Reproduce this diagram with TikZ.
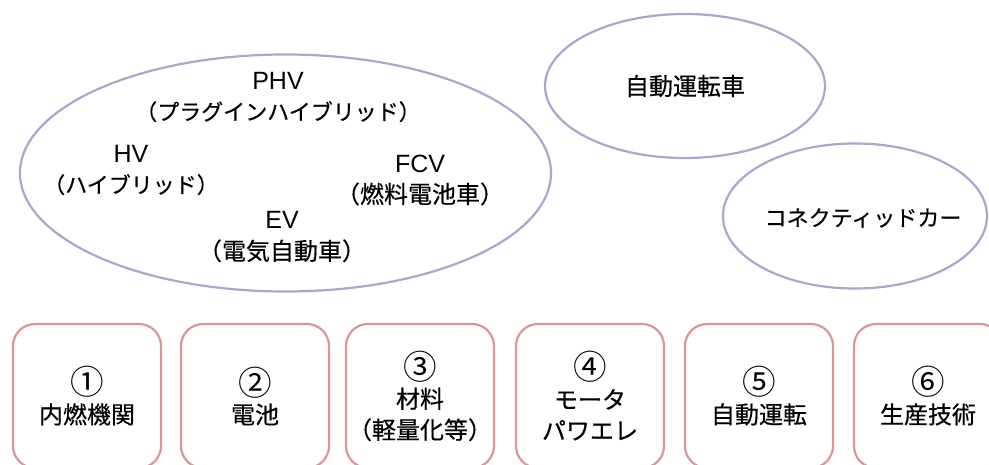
\documentclass[tikz,border=0pt]{standalone}
\usepackage{fontspec}
\setmainfont[FakeBold=0.4]{Noto Sans CJK JP}
\newfontfamily\jpplain{Noto Sans CJK JP}
\newfontfamily\lat{Liberation Sans}
\usetikzlibrary{shapes.geometric}
\definecolor{ellcol}{RGB}{178,162,204}
\definecolor{boxcol}{RGB}{218,150,150}
\newcommand{\circnum}[1]{\raisebox{-0.1em}{\scalebox{1.4}{\jpplain #1}}}
\newcommand{\latin}[1]{{\lat\fontsize{25}{31}\selectfont #1}}
\newcommand{\kana}[1]{{\fontsize{22}{31}\selectfont #1}}
\tikzset{
  ell/.style={ellipse, draw=ellcol, line width=2.2pt, inner sep=0pt},
  techbox/.style={rectangle, rounded corners=22pt, draw=boxcol, line width=2.2pt,
    minimum width=148pt, minimum height=144pt, inner sep=0pt},
  txt/.style={align=center, font=\fontsize{24}{31}\selectfont, inner sep=0pt}
}
\begin{document}
\begin{tikzpicture}[x=1pt,y=-1pt]
\useasboundingbox (0,0) rectangle (989,465);
\clip (0,0) rectangle (989,465);
% ellipses
\node[ell, minimum width=531pt, minimum height=237pt] (xev) at (285.5,173) {};
\node[ell, minimum width=280pt, minimum height=144pt] (auto) at (685,86) {};
\node[ell, minimum width=264pt, minimum height=145pt] (conn) at (855,216) {};
\node[txt] (autot) at (685,86) {自動運転車};
\node[txt] (connt) at (863,218) {\kana{コネクティッドカー}};
\node[txt] (phv) at (278,97) {\latin{PHV}\\\kana{（プラグインハイブリッド）}};
\node[txt] (hv) at (131,170) {\latin{HV}\\\kana{（ハイブリッド）}};
\node[txt] (fcv) at (420,180) {\latin{FCV}\\（燃料電池車）};
\node[txt] (ev) at (282,237) {\latin{EV}\\（電気自動車）};
% boxes
\node[techbox] (b1) at (87,396) {};
\node[techbox] (b2) at (255,396) {};
\node[techbox] (b3) at (420,396) {};
\node[techbox] (b4) at (590,396) {};
\node[techbox] (b5) at (759,396) {};
\node[techbox] (b6) at (928,396) {};
\node[txt] (t1) at (87,396) {\circnum{①}\\内燃機関};
\node[txt] (t2) at (255,396) {\circnum{②}\\電池};
\node[txt] (t3) at (420,396) {\circnum{③}\\材料\\（軽量化等）};
\node[txt] (t4) at (590,396) {\circnum{④}\\モータ\\パワエレ};
\node[txt] (t5) at (759,396) {\circnum{⑤}\\自動運転};
\node[txt] (t6) at (928,396) {\circnum{⑥}\\生産技術};
\end{tikzpicture}
\end{document}
